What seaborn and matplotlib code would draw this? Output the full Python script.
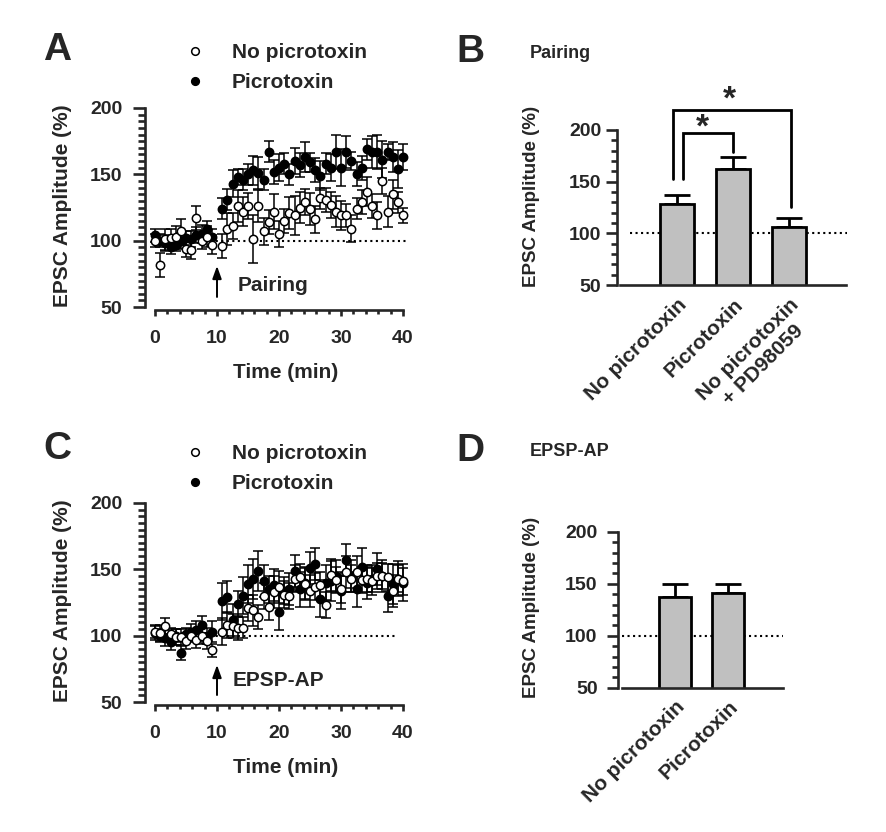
import numpy as np
import pandas as pd
import matplotlib
matplotlib.use("Agg")
import matplotlib.pyplot as plt
import seaborn as sns
from matplotlib.lines import Line2D
from matplotlib.ticker import FixedLocator

# ---------------- data ----------------
time_pre = [0, 0.83, 1.67, 2.5, 3.33, 4.17, 5, 5.83, 6.67, 7.5, 8.33, 9.17]
time_post = [10.83, 11.67, 12.5, 13.33, 14.17, 15, 15.83, 16.67, 17.5, 18.33,
             19.17, 20, 20.83, 21.67, 22.5, 23.33, 24.17, 25, 25.83, 26.67,
             27.5, 28.33, 29.17, 30, 30.83, 31.67, 32.5, 33.33, 34.17, 35,
             35.83, 36.67, 37.5, 38.33, 39.17, 40]
time_min = time_pre + time_post

# Panel A (Pairing)
A_picro = [104, 100, 98, 95, 97, 100, 102, 101, 104, 105, 109, 103,
           124, 131, 143, 148, 146, 150, 153, 151, 146, 167, 152, 155, 158, 150,
           160, 157, 163, 159, 153, 149, 158, 155, 167, 155, 167, 160, 150, 155,
           169, 167, 167, 161, 167, 163, 154, 163]
A_picro_sem = [5, 5, 6, 5, 5, 6, 5, 6, 6, 7, 6, 6,
               8, 8, 10, 6, 8, 8, 11, 12, 8, 8, 9, 10, 8, 8, 10, 9, 11, 7, 9, 11,
               8, 10, 13, 14, 12, 7, 9, 9, 8, 12, 13, 14, 6, 11, 14, 10]
A_nopicro = [100, 82, 101, 102, 103, 107, 94, 93, 117, 100, 103, 97,
             96, 109, 111, 126, 122, 126, 101, 126, 107, 114, 122, 105, 115, 121,
             119, 125, 129, 124, 116, 132, 131, 127, 122, 119, 119, 109, 124, 129,
             137, 126, 119, 145, 122, 135, 129, 119]
A_nopicro_sem = [5, 9, 8, 7, 8, 9, 6, 7, 9, 6, 8, 7,
                 9, 12, 10, 12, 11, 10, 18, 12, 10, 9, 13, 10, 9, 12, 15, 12, 10,
                 12, 10, 8, 9, 10, 12, 11, 9, 10, 8, 9, 11, 9, 10, 10, 12, 11, 8, 6]

# Panel C (EPSP-AP)
C_picro = [102, 100, 98, 95, 100, 87, 101, 103, 104, 108, 100, 103,
           126, 129, 112, 124, 130, 139, 143, 149, 141, 135, 138, 118, 134, 135,
           149, 135, 140, 151, 154, 128, 140, 141, 145, 134, 157, 145, 135, 152,
           140, 143, 150, 145, 130, 139, 143, 140]
C_picro_sem = [5, 5, 6, 6, 5, 5, 5, 6, 7, 7, 6, 8,
               14, 12, 12, 10, 14, 14, 15, 15, 12, 10, 12, 14, 10, 12, 12, 13, 12,
               12, 12, 14, 13, 15, 12, 14, 12, 12, 13, 14, 12, 10, 12, 12, 12, 15,
               13, 14]
C_nopicro = [103, 102, 107, 101, 99, 99, 96, 100, 97, 100, 96, 89,
             103, 108, 107, 106, 106, 121, 119, 114, 130, 122, 133, 137, 131, 130,
             143, 144, 139, 134, 137, 138, 123, 146, 142, 135, 148, 143, 148, 142,
             143, 141, 145, 145, 144, 134, 143, 141]
C_nopicro_sem = [5, 6, 6, 5, 6, 6, 6, 5, 6, 6, 6, 5,
                 10, 10, 9, 9, 8, 10, 12, 9, 10, 10, 12, 12, 10, 10, 10, 10, 12,
                 12, 10, 10, 10, 12, 10, 10, 12, 10, 12, 10, 10, 10, 10, 10, 10,
                 12, 10, 10]

# Panel B / D bars
B_groups = ["No picrotoxin", "Picrotoxin", "No picrotoxin\n+ PD98059"]
B_mean = [128, 162, 106]
B_sem = [9, 11.5, 8.5]
D_groups = ["No picrotoxin", "Picrotoxin"]
D_mean = [137.5, 141]
D_sem = [12, 8.5]

legend_labels = ["No picrotoxin", "Picrotoxin"]
tc_yticks = [50, 100, 150, 200]
tc_xticks = [0, 10, 20, 30, 40]

# ---------------- style ----------------
sns.set_style("ticks")
plt.rcParams["font.family"] = ["Liberation Sans", "DejaVu Sans"]
plt.rcParams["font.weight"] = "bold"
plt.rcParams["axes.labelweight"] = "bold"
plt.rcParams["axes.linewidth"] = 1.9

W, H = 886, 832
fig = plt.figure(figsize=(W / 100, H / 100), dpi=100)


def rect(l, t, r, b):
    return [l / W, 1 - b / H, (r - l) / W, (b - t) / H]


def fx(px):
    return px / W


def fy(py):
    return 1 - py / H


def timecourse(ax, filled, filled_sem, opened, opened_sem, dot_end):
    ax.plot([0, dot_end], [100, 100], ls=":", color="black", lw=1.5, zorder=1)
    ax.errorbar(time_min, filled, yerr=filled_sem, fmt="none", ecolor="black",
                elinewidth=1.1, capsize=3.5, capthick=1.1, zorder=2, clip_on=False)
    sns.scatterplot(x=time_min, y=filled, ax=ax, color="black", edgecolor="black",
                    s=36, linewidth=1.1, zorder=3, clip_on=False, legend=False)
    ax.errorbar(time_min, opened, yerr=opened_sem, fmt="none", ecolor="black",
                elinewidth=1.1, capsize=3.5, capthick=1.1, zorder=4, clip_on=False)
    sns.scatterplot(x=time_min, y=opened, ax=ax, color="white", edgecolor="black",
                    s=36, linewidth=1.1, zorder=5, clip_on=False, legend=False)
    ax.set_xlim(-1.613, 40.645)
    ax.set_ylim(47.78, 204.97)
    sns.despine(ax=ax)
    ax.spines["bottom"].set_bounds(0, 40)
    ax.spines["left"].set_bounds(50, 200)
    ax.set_xticks(tc_xticks)
    ax.xaxis.set_minor_locator(FixedLocator(np.arange(0, 41, 2)))
    ax.set_yticks(tc_yticks)
    ax.yaxis.set_minor_locator(FixedLocator(np.arange(50, 201, 5)))
    ax.tick_params(axis="y", which="major", length=8.4, width=1.9, pad=8, labelsize=14)
    ax.tick_params(axis="y", which="minor", length=4.8, width=1.9)
    ax.tick_params(axis="x", which="major", length=4.3, width=1.9, pad=10, labelsize=14)
    ax.tick_params(axis="x", which="minor", length=3.0, width=1.9)
    ax.set_xlabel("Time (min)", fontsize=15)
    ax.set_ylabel("EPSC Amplitude (%)", fontsize=15)
    ax.xaxis.set_label_coords(0.536, -0.254)
    ax.yaxis.set_label_coords(-0.279, 0.5)
    handles = [Line2D([], [], ls="none", marker="o", markersize=5.5, markerfacecolor="white",
                      markeredgecolor="black", markeredgewidth=1.1),
               Line2D([], [], ls="none", marker="o", markersize=5.5, markerfacecolor="black",
                      markeredgecolor="black", markeredgewidth=1.1)]
    return handles


def barpanel(ax, groups, means, sems, ylim_top, xl, xr, spine_l, spine_r, dot_l, dot_r, ypad):
    ax.plot([dot_l, dot_r], [100, 100], ls=":", color="black", lw=1.5, zorder=0.5, clip_on=False)
    ax.errorbar(list(range(len(groups))), means, yerr=[[0] * len(groups), sems], fmt="none",
                ecolor="black", elinewidth=2, capsize=9.5, capthick=2, zorder=0.8)
    sns.barplot(x=groups, y=means, ax=ax, color="#c0c0c0", edgecolor="black",
                linewidth=2, width=0.6, saturation=1, zorder=1)
    ax.set_xlim(xl, xr)
    ax.set_ylim(50, ylim_top)
    sns.despine(ax=ax)
    ax.spines["bottom"].set_bounds(spine_l, spine_r)
    ax.spines["left"].set_bounds(50, 200)
    ax.set_yticks(tc_yticks)
    ax.yaxis.set_minor_locator(FixedLocator(np.arange(50, 201, 10)))
    ax.tick_params(axis="y", which="major", length=7.7, width=1.9, pad=ypad, labelsize=14)
    ax.tick_params(axis="y", which="minor", length=4.1, width=1.9)
    ax.set_xticks(list(range(len(groups))))
    ax.set_xticklabels(groups, rotation=45, ha="right", va="top", rotation_mode="anchor",
                       fontsize=15, multialignment="center")
    ax.tick_params(axis="x", length=0, pad=7)
    ax.set_xlabel("")
    ax.set_ylabel("EPSC Amplitude (%)", fontsize=13.5)


legend_kw = dict(loc="upper left", bbox_transform=fig.transFigure, frameon=False, fontsize=15,
                 handlelength=1.0, handletextpad=1.28, labelspacing=0.55, borderpad=0,
                 borderaxespad=0)

# ---------------- Panel A ----------------
axA = fig.add_axes(rect(145, 101.4, 407, 310))
hA = timecourse(axA, A_picro, A_picro_sem, A_nopicro, A_nopicro_sem, 41)
axA.annotate("", xy=(10, 81), xytext=(10, 57.6),
             arrowprops=dict(arrowstyle="-|>,head_length=0.5,head_width=0.18", color="black",
                             lw=1.4, mutation_scale=15, shrinkA=0, shrinkB=0))
axA.text(13.4, 62, "Pairing", fontsize=15, ha="left", va="baseline")
axA.legend(hA, legend_labels, bbox_to_anchor=(fx(184.6), fy(43)), **legend_kw)

# ---------------- Panel C ----------------
axC = fig.add_axes(rect(145, 496.4, 407, 705))
hC = timecourse(axC, C_picro, C_picro_sem, C_nopicro, C_nopicro_sem, 39)
axC.annotate("", xy=(10, 78), xytext=(10, 55.3),
             arrowprops=dict(arrowstyle="-|>,head_length=0.5,head_width=0.18", color="black",
                             lw=1.4, mutation_scale=15, shrinkA=0, shrinkB=0))
axC.text(12.6, 62, "EPSP-AP", fontsize=15, ha="left", va="baseline")
axC.legend(hC, legend_labels, bbox_to_anchor=(fx(184.6), fy(444)), **legend_kw)

# ---------------- Panel B ----------------
axB = fig.add_axes(rect(617, 88, 847, 285))
barpanel(axB, B_groups, B_mean, B_sem, 240.6, -1.071, 3.036, -1.018, 3.018, -0.84, 3.04, 3.6)
axB.yaxis.set_label_coords(-0.335, 0.45)
axB.plot([-0.07, -0.07, 2.03, 2.03], [152.6, 219, 219, 125.8], color="black", lw=2,
         clip_on=False, solid_joinstyle="miter")
axB.plot([0.10, 0.10, 1.005, 1.005], [152.6, 196.8, 196.8, 179], color="black", lw=2,
         clip_on=False, solid_joinstyle="miter")
axB.text(0.93, 229, "*", ha="center", va="center", fontsize=24, clip_on=False)
axB.text(0.46, 202, "*", ha="center", va="center", fontsize=24, clip_on=False)

# ---------------- Panel D ----------------
axD = fig.add_axes(rect(618, 526.5, 785, 687.7))
barpanel(axD, D_groups, D_mean, D_sem, 205, -1.075, 2.075, -1.0, 2.04, -1.0, 2.04, 7)
axD.yaxis.set_label_coords(-0.47, 0.5)

# ---------------- panel letters & titles ----------------
for letter, x, y in [("A", 57, 50), ("B", 470, 52), ("C", 57, 449), ("D", 470, 451)]:
    fig.text(fx(x), fy(y), letter, fontsize=28, fontweight="bold", ha="center", va="center")
fig.text(fx(530), fy(53), "Pairing", fontsize=13, fontweight="bold", ha="left", va="center")
fig.text(fx(530), fy(452), "EPSP-AP", fontsize=13, fontweight="bold", ha="left", va="center")

fig.savefig("out.png", dpi=100)
